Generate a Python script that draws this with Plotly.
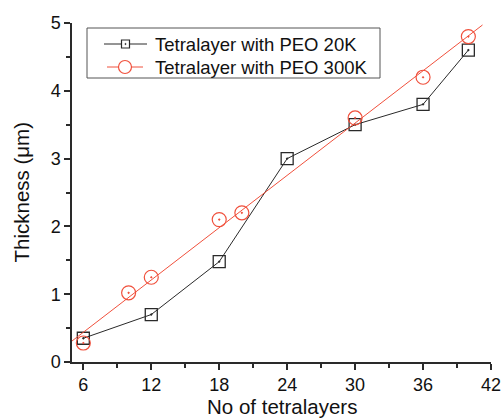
import numpy as np
import plotly.graph_objects as go

# Tetralayer thickness vs number of tetralayers
x_20k = [6, 12, 18, 24, 30, 36, 40]
y_20k = [0.35, 0.70, 1.48, 3.00, 3.50, 3.80, 4.60]

x_300k = [6, 10, 12, 18, 20, 30, 36, 40]
y_300k = [0.28, 1.02, 1.25, 2.10, 2.20, 3.60, 4.20, 4.80]

x_ticks = [6, 12, 18, 24, 30, 36, 42]
y_ticks = [0, 1, 2, 3, 4, 5]

series_names = ["Tetralayer with PEO 20K", "Tetralayer with PEO 300K"]

BLACK = "#2a2a2a"
RED = "#f0503c"
FONT = "Liberation Sans, Arial, sans-serif"

W, H = 502, 418
ML, MR, MT, MB = 72, 11, 23, 56
PW, PH = W - ML - MR, H - MT - MB


def px(xp):
    return (xp - ML) / PW


def py(yp):
    return (H - MB - yp) / PH


# linear fit of the PEO 300K data
slope, intercept = np.polyfit(x_300k, y_300k, 1)
fit_x = np.array([5.0, 41.25])
fit_y = slope * fit_x + intercept

fig = go.Figure()

fig.add_trace(go.Scatter(
    x=x_20k, y=y_20k, mode="lines+markers", name=series_names[0], showlegend=False,
    line=dict(color=BLACK, width=1),
    marker=dict(symbol="square-open-dot", size=12, color=BLACK, line=dict(width=1.3)),
))

fig.add_trace(go.Scatter(
    x=fit_x, y=fit_y, mode="lines", showlegend=False,
    line=dict(color=RED, width=1),
))

fig.add_trace(go.Scatter(
    x=x_300k, y=y_300k, mode="markers", name=series_names[1], showlegend=False,
    marker=dict(symbol="circle-open-dot", size=14, color=RED, line=dict(width=1.2)),
))

axis_common = dict(
    showgrid=False, zeroline=False, showline=True, linecolor=BLACK, linewidth=1.5,
    ticks="outside", ticklen=6, tickwidth=1.5, tickcolor=BLACK,
    tickfont=dict(family=FONT, size=18, color="#111"),
    mirror=False, automargin=False,
)

fig.update_xaxes(
    range=[5, 42], tickvals=x_ticks,
    minor=dict(tickvals=[9, 15, 21, 27, 33, 39], ticklen=4, tickwidth=1.5, tickcolor=BLACK, ticks="outside"),
    **axis_common,
)
fig.update_yaxes(
    range=[0, 5], tickvals=y_ticks,
    minor=dict(tickvals=[0.5, 1.5, 2.5, 3.5, 4.5], ticklen=4, tickwidth=1.5, tickcolor=BLACK, ticks="outside"),
    **axis_common,
)

# axis titles
title_font = dict(family=FONT, size=20.5, color="#111")
fig.add_annotation(text="No of tetralayers", xref="paper", yref="paper",
                   x=0.5, y=py(406), xanchor="center", yanchor="middle",
                   showarrow=False, font=title_font)
fig.add_annotation(text="Thickness (\u03bcm)", xref="paper", yref="paper",
                   x=px(21), y=0.5, xanchor="center", yanchor="middle",
                   textangle=-90, showarrow=False, font=title_font)

# legend box
fig.add_shape(type="rect", xref="paper", yref="paper",
              x0=px(87), x1=px(380), y0=py(78), y1=py(28),
              line=dict(color="#555", width=1), fillcolor="white", layer="above")

# legend rows: line sample, marker sample, label
rows = [
    dict(y=44, color=BLACK, lx=(104, 147), kind="rect", half=4),
    dict(y=67, color=RED, lx=(107, 143), kind="circle", half=6.5),
]
for name, row in zip(series_names, rows):
    yc = py(row["y"])
    fig.add_shape(type="line", xref="paper", yref="paper",
                  x0=px(row["lx"][0]), x1=px(row["lx"][1]), y0=yc, y1=yc,
                  line=dict(color=row["color"], width=1), layer="above")
    xc = px((row["lx"][0] + row["lx"][1]) / 2)
    h = row["half"]
    fig.add_shape(type=row["kind"], xref="paper", yref="paper",
                  xsizemode="pixel", ysizemode="pixel", xanchor=xc, yanchor=yc,
                  x0=-h, x1=h, y0=-h, y1=h,
                  line=dict(color=row["color"], width=1.2), fillcolor="white", layer="above")
    if row["kind"] == "rect":
        # centre dot of the square symbol
        fig.add_shape(type="circle", xref="paper", yref="paper",
                      xsizemode="pixel", ysizemode="pixel", xanchor=xc, yanchor=yc,
                      x0=-0.6, x1=0.6, y0=-0.6, y1=0.6,
                      line=dict(color=row["color"], width=0.8), fillcolor=row["color"], layer="above")
    fig.add_annotation(text=name, xref="paper", yref="paper",
                       x=px(153), y=yc, xanchor="left", yanchor="middle",
                       showarrow=False, font=dict(family=FONT, size=18.5, color="#111"))

fig.update_layout(
    width=W, height=H,
    margin=dict(l=ML, r=MR, t=MT, b=MB),
    paper_bgcolor="white", plot_bgcolor="white",
    font=dict(family=FONT, color="#111"),
    showlegend=False,
)

fig.write_html("out.html")
